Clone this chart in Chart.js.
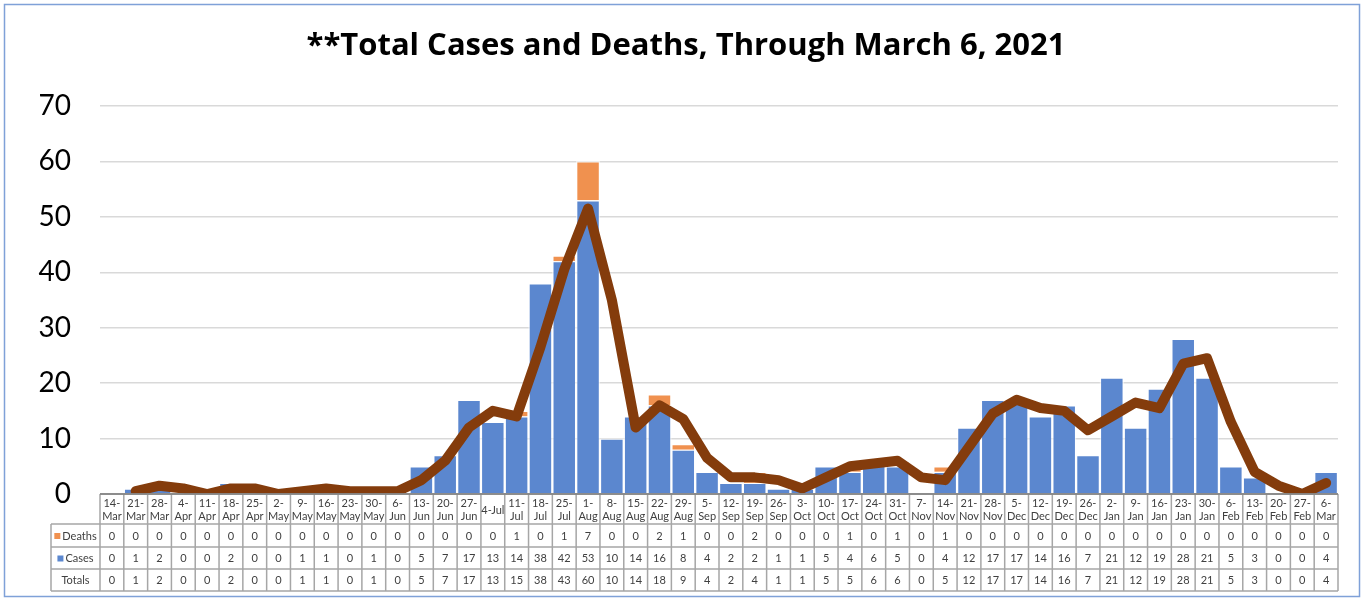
<!DOCTYPE html>
<html>
<head>
<meta charset="utf-8">
<script src="https://cdn.jsdelivr.net/npm/chart.js@4/dist/chart.umd.min.js"></script>
<style>
  html, body { margin: 0; padding: 0; background: #fff; }
  #wrap { width: 1362px; height: 600px; position: relative; }
</style>
</head>
<body>
<div id="wrap"><canvas id="covidChart" width="1362" height="600"></canvas></div>
<script>
// Weekly categories (week starting)
const weeks = ['14-Mar', '21-Mar', '28-Mar', '4-Apr', '11-Apr', '18-Apr', '25-Apr', '2-May', '9-May', '16-May',
    '23-May', '30-May', '6-Jun', '13-Jun', '20-Jun', '27-Jun', '4-Jul', '11-Jul', '18-Jul', '25-Jul',
    '1-Aug', '8-Aug', '15-Aug', '22-Aug', '29-Aug', '5-Sep', '12-Sep', '19-Sep', '26-Sep', '3-Oct',
    '10-Oct', '17-Oct', '24-Oct', '31-Oct', '7-Nov', '14-Nov', '21-Nov', '28-Nov', '5-Dec', '12-Dec',
    '19-Dec', '26-Dec', '2-Jan', '9-Jan', '16-Jan', '23-Jan', '30-Jan', '6-Feb', '13-Feb', '20-Feb',
    '27-Feb', '6-Mar'];

const deaths = [0, 0, 0, 0, 0, 0, 0, 0, 0, 0, 0, 0, 0, 0, 0, 0, 0, 1, 0, 1,
    7, 0, 0, 2, 1, 0, 0, 2, 0, 0, 0, 1, 0, 1, 0, 1, 0, 0, 0, 0,
    0, 0, 0, 0, 0, 0, 0, 0, 0, 0, 0, 0];

const cases = [0, 1, 2, 0, 0, 2, 0, 0, 1, 1, 0, 1, 0, 5, 7, 17, 13, 14, 38, 42,
    53, 10, 14, 16, 8, 4, 2, 2, 1, 1, 5, 4, 6, 5, 0, 4, 12, 17, 17, 14,
    16, 7, 21, 12, 19, 28, 21, 5, 3, 0, 0, 4];

const totals = [0, 1, 2, 0, 0, 2, 0, 0, 1, 1, 0, 1, 0, 5, 7, 17, 13, 15, 38, 43,
    60, 10, 14, 18, 9, 4, 2, 4, 1, 1, 5, 5, 6, 6, 0, 5, 12, 17, 17, 14,
    16, 7, 21, 12, 19, 28, 21, 5, 3, 0, 0, 4];

// Trend line (moving average of totals)
const trend = [null, 0.5, 1.5, 1, 0, 1, 1, 0, 0.5, 1, 0.5, 0.5, 0.5, 2.5, 6, 12, 15, 14, 26.5, 40.5,
    51.5, 35, 12, 16, 13.5, 6.5, 3, 3, 2.5, 1, 3, 5, 5.5, 6, 3, 2.5, 8.5, 14.5, 17, 15.5,
    15, 11.5, 14, 16.5, 15.5, 23.5, 24.5, 13, 4, 1.5, 0, 2];

const yTicks = [0, 10, 20, 30, 40, 50, 60, 70];

const titleText = '**Total Cases and Deaths, Through March 6, 2021';

const BLUE = '#5B87CF';
const ORANGE = '#F0914F';
const BROWN = '#843C0C';

// Title, outer border and the data table under the axis
const tablePlugin = {
    id: 'tablePlugin',
    afterDraw(chart) {
        const ctx = chart.ctx;
        const x = chart.scales.x;
        const area = chart.chartArea;
        ctx.save();

        // outer border
        ctx.strokeStyle = '#7FA1D8';
        ctx.lineWidth = 1.5;
        ctx.strokeRect(4.5, 4.5, 1355, 592);

        // title
        ctx.fillStyle = '#000';
        ctx.font = 'bold 31px "Open Sans"';
        ctx.textAlign = 'center';
        ctx.textBaseline = 'middle';
        ctx.fillText(titleText, 686, 46);

        const colW = x.getPixelForValue(1) - x.getPixelForValue(0);
        const top = area.bottom;
        const rowY = [top, 524, 547, 569, 591];
        const labelLeft = 51;
        const left = area.left;
        const right = area.right;

        ctx.strokeStyle = '#A6A6A6';
        ctx.lineWidth = 1.5;

        // horizontal rules
        ctx.beginPath();
        ctx.moveTo(left, rowY[0]); ctx.lineTo(right, rowY[0]);
        for (let r = 1; r < rowY.length; r++) {
            ctx.moveTo(labelLeft, rowY[r]); ctx.lineTo(right, rowY[r]);
        }
        // vertical rules
        for (let i = 0; i <= weeks.length; i++) {
            const vx = left + i * colW;
            ctx.moveTo(vx, rowY[0]); ctx.lineTo(vx, rowY[4]);
        }
        ctx.moveTo(labelLeft, rowY[1]); ctx.lineTo(labelLeft, rowY[4]);
        ctx.stroke();

        // axis line
        ctx.strokeStyle = '#7F7F7F';
        ctx.lineWidth = 1.5;
        ctx.beginPath();
        ctx.moveTo(left, top); ctx.lineTo(right, top);
        ctx.stroke();

        // text
        ctx.fillStyle = '#404040';
        ctx.font = '11px Lato';
        ctx.textAlign = 'center';
        ctx.textBaseline = 'middle';
        const rows = [deaths, cases, totals];
        weeks.forEach((w, i) => {
            const cx = x.getPixelForValue(i);
            if (ctx.measureText(w).width > colW + 1.5) {
                const k = w.indexOf('-');
                ctx.fillText(w.slice(0, k + 1), cx, 503);
                ctx.fillText(w.slice(k + 1), cx, 516);
            } else {
                ctx.fillText(w, cx, 510);
            }
            rows.forEach((arr, r) => {
                ctx.fillText(String(arr[i]), cx, (rowY[r + 1] + rowY[r + 2]) / 2 + 0.5);
            });
        });

        // row labels with legend keys
        const labelMid = (labelLeft + left) / 2;
        const rowLabels = [['Deaths', ORANGE], ['Cases', BLUE], ['Totals', null]];
        rowLabels.forEach(([txt, col], r) => {
            const cy = (rowY[r + 1] + rowY[r + 2]) / 2 + 0.5;
            const tw = ctx.measureText(txt).width;
            if (col) {
                const startX = labelMid - (tw + 8) / 2;
                ctx.fillStyle = col;
                ctx.fillRect(startX, cy - 3, 6, 6);
                ctx.fillStyle = '#404040';
                ctx.textAlign = 'left';
                ctx.fillText(txt, startX + 8, cy);
            } else {
                ctx.textAlign = 'center';
                ctx.fillText(txt, labelMid, cy);
            }
        });
        ctx.restore();
    }
};

const ctx = document.getElementById('covidChart').getContext('2d');
const covidChart = new Chart(ctx, {
    type: 'bar',
    data: {
        labels: weeks,
        datasets: [
            {
                type: 'line',
                label: 'Trend',
                data: trend,
                borderColor: BROWN,
                borderWidth: 10,
                pointRadius: 0,
                tension: 0,
                borderJoinStyle: 'round',
                borderCapStyle: 'round',
                stack: 'trend',
                order: 0
            },
            {
                label: 'Cases',
                data: cases,
                backgroundColor: BLUE,
                borderColor: 'rgba(255,255,255,0.55)',
                borderWidth: 1.5,
                stack: 'bars',
                order: 1
            },
            {
                label: 'Deaths',
                data: deaths,
                backgroundColor: ORANGE,
                borderColor: 'rgba(255,255,255,0.55)',
                borderWidth: 1.5,
                stack: 'bars',
                order: 1
            }
        ]
    },
    options: {
        responsive: false,
        animation: false,
        layout: {
            padding: { left: 0, right: 24, top: 106, bottom: 106 }
        },
        datasets: {
            bar: { barPercentage: 1, categoryPercentage: 1 }
        },
        plugins: {
            legend: { display: false },
            title: { display: false },
            tooltip: { enabled: false }
        },
        scales: {
            x: {
                stacked: true,
                display: false
            },
            y: {
                stacked: true,
                min: 0,
                max: 70,
                afterFit: function(scale) { scale.width = 100; },
                afterBuildTicks: function(scale) {
                    scale.ticks = yTicks.map(v => ({ value: v }));
                },
                border: { display: false },
                grid: {
                    color: '#D9D9D9',
                    lineWidth: 1.5,
                    drawTicks: false
                },
                ticks: {
                    padding: 29,
                    color: '#000',
                    font: { family: 'Lato', size: 28 }
                }
            }
        }
    },
    plugins: [tablePlugin]
});
</script>
</body>
</html>
